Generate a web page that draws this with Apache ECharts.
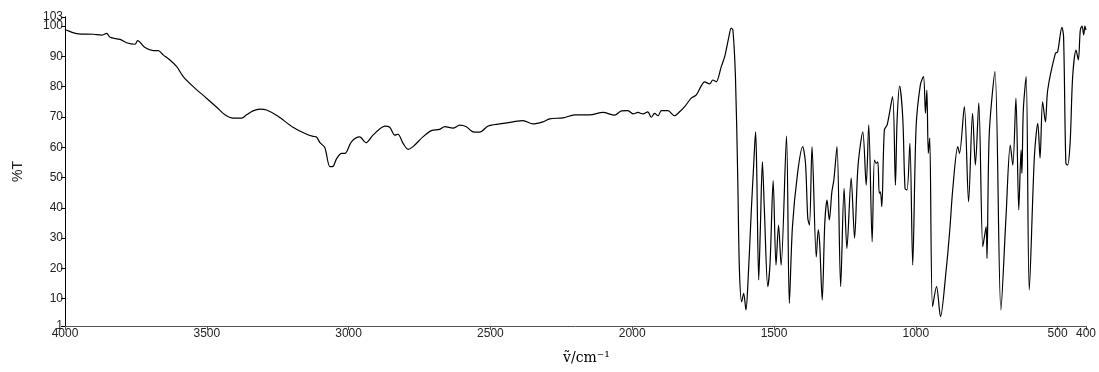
<!DOCTYPE html>
<html>
<head>
<meta charset="utf-8">
<script src="https://cdn.jsdelivr.net/npm/echarts@6/dist/echarts.min.js"></script>
<style>
html,body{margin:0;padding:0;background:#fff;}
#chart{width:1099px;height:372px;}
</style>
</head>
<body>
<div id="chart"></div>
<script>
const wavenumbers = [4000,3996,3953,3900,3871,3853,3841,3806,3783,3753,3744,3718,3689,3671,3654,3630,3606,3583,3548,3501,3465,3436,3407,3377,3360,3337,3313,3289,3250,3196,3148,3125,3113,3101,3084,3066,3055,3043,3025,3013,2990,2961,2939,2914,2872,2855,2837,2826,2808,2790,2773,2737,2708,2679,2661,2632,2608,2585,2561,2538,2508,2467,2420,2385,2350,2315,2291,2244,2203,2150,2103,2062,2038,2015,1997,1980,1962,1945,1933,1921,1909,1897,1874,1851,1833,1815,1792,1774,1757,1745,1727,1716,1704,1686,1674,1659,1651,1645,1636,1628,1622,1614,1607,1599,1592,1580,1572,1565,1561,1554,1548,1541,1534,1522,1514,1503,1493,1484,1475,1456,1446,1435,1417,1399,1389,1381,1375,1366,1351,1344,1339,1330,1321,1313,1305,1296,1289,1278,1265,1253,1243,1228,1216,1204,1187,1175,1166,1154,1146,1140,1134,1129,1125,1120,1111,1101,1082,1072,1066,1057,1046,1038,1031,1021,1011,999,984,973,966,961,956,951,941,927,913,893,880,870,852,846,829,814,800,790,778,764,758,752,749,741,721,700,682,667,658,647,637,629,626,621,611,600,582,570,562,553,543,535,508,500,485,479,471,465,456,447,435,427,420,414,408,404,400];
const transmittance = [99.0,98.7,97.4,97.3,97.0,97.6,96.3,95.6,94.5,94.0,95.2,92.9,91.9,91.9,90.5,88.8,86.6,83.3,80.0,76.2,73.2,70.7,69.6,69.6,70.7,72.0,72.6,72.3,70.3,66.6,64.3,63.6,63.4,61.5,59.9,53.6,53.7,56.1,58.0,58.0,61.8,63.4,61.5,64.0,67.0,66.6,64.0,64.3,61.3,59.3,60.2,63.5,65.5,65.9,66.8,66.3,67.3,66.8,65.1,65.0,67.0,67.7,68.4,68.8,67.7,68.4,69.4,69.7,70.7,70.7,71.5,70.6,72.0,72.1,71.0,71.5,71.0,71.7,69.9,71.2,70.4,72.1,72.1,70.4,71.7,73.4,76.2,77.3,80.2,81.6,80.9,82.2,81.6,86.6,89.9,96.5,99.3,98.7,83.3,50.3,19.5,9.0,11.8,6.3,15.1,39.3,53.6,65.1,52.5,16.2,33.8,55.2,39.3,14.0,21.7,49.0,21.1,34.3,21.1,63.7,8.5,33.8,51.4,60.2,54.7,36.6,34.3,60.2,23.8,32.7,28.3,9.6,34.9,42.6,36.0,45.3,49.2,60.2,14.0,46.4,26.6,49.8,30.0,53.6,65.1,47.5,67.4,28.8,55.8,54.7,55.2,44.8,45.3,40.4,65.7,67.4,76.7,47.5,69.0,80.2,69.6,46.4,45.9,61.3,21.1,66.8,80.6,83.3,71.2,78.9,58.0,63.0,7.4,14.0,4.1,19.5,33.0,45.9,60.2,58.0,73.4,42.0,71.2,54.1,74.7,27.2,30.5,33.8,23.3,64.6,85.0,6.3,37.1,60.7,54.1,76.2,39.3,59.1,51.4,72.3,83.3,12.9,56.9,67.9,56.4,75.0,68.4,78.9,91.0,91.5,99.6,96.5,54.7,54.1,61.3,83.3,92.1,88.8,98.7,100.0,97.1,100.0,98.7];
const xTicks = [4000,3500,3000,2500,2000,1500,1000,500,400];
const yTicks = [1,10,20,30,40,50,60,70,80,90,100];
const yTopTick = [103];

const data = wavenumbers.map((w,i)=>[w, transmittance[i]]);
const chart = echarts.init(document.getElementById('chart'), null, {renderer:'canvas'});
const sans = "'Liberation Sans', Arial, sans-serif";
const labelFont = {fontFamily:sans, fontSize:12, color:'#222'};
function yAxisDef(ticks, withName){
  return {
    type:'value', min:1, max:103, position:'left',
    name: withName ? '%T' : '', nameLocation:'middle', nameGap:40,
    nameTextStyle:{fontFamily:sans, fontSize:14, color:'#222'},
    axisLine:{show:true, onZero:false, lineStyle:{color:'#000', width:1}},
    axisTick:{show:true, length:4, customValues:ticks, lineStyle:{color:'#000'}},
    axisLabel:{customValues:ticks, margin:2, hideOverlap:false, showMinLabel:true, showMaxLabel:true,
      formatter:v=>String(v), ...labelFont},
    splitLine:{show:false}
  };
}
chart.setOption({
  animation:false,
  backgroundColor:'#fff',
  grid:{left:65, right:12, top:17, bottom:46},
  xAxis:{
    type:'value', min:400, max:4000, inverse:true,
    name:'ṽ/cm⁻¹', nameLocation:'middle', nameGap:25,
    nameTextStyle:{fontFamily:"'DejaVu Serif', serif", fontSize:14, color:'#000', padding:[0,0,0,22]},
    axisLine:{show:true, onZero:false, lineStyle:{color:'#555', width:1}},
    axisTick:{show:true, length:4, inside:false, customValues:xTicks, lineStyle:{color:'#555'}},
    axisLabel:{customValues:xTicks, margin:2, hideOverlap:false, showMinLabel:true, showMaxLabel:true,
      formatter:v=>String(v), ...labelFont},
    splitLine:{show:false}
  },
  yAxis:[yAxisDef(yTicks, true), yAxisDef(yTopTick, false)],
  series:[{
    type:'line', data:data, showSymbol:false, symbol:'none', smooth:0.3, yAxisIndex:0,
    lineStyle:{color:'#000', width:1.2}
  }]
});
</script>
</body>
</html>
